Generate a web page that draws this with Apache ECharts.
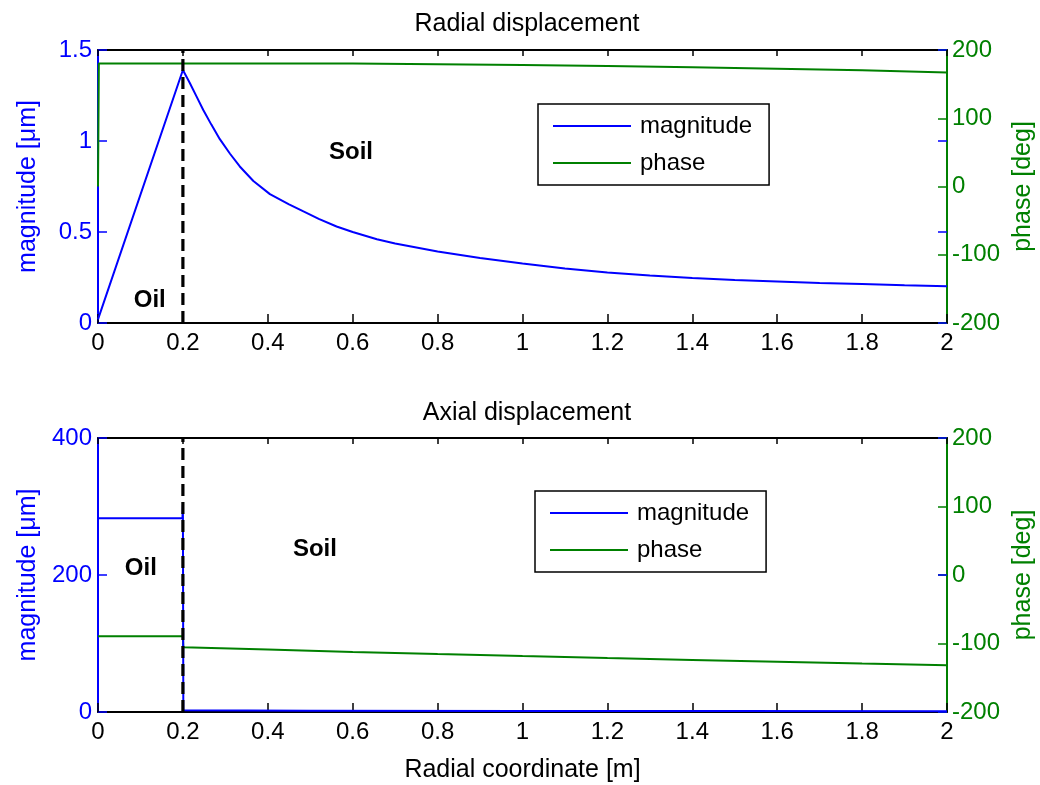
<!DOCTYPE html>
<html>
<head>
<meta charset="utf-8">
<script src="https://cdn.jsdelivr.net/npm/echarts@6/dist/echarts.min.js"></script>
<style>
html,body{margin:0;padding:0;background:#fff;}
#chart{width:1040px;height:785px;}
</style>
</head>
<body>
<div id="chart"></div>
<script>
// ---------- data ----------
var xTicks = [0, 0.2, 0.4, 0.6, 0.8, 1, 1.2, 1.4, 1.6, 1.8, 2];
var boundaryR = 0.2;

// Radial displacement
var radialMagR   = [0, 0.2, 0.216, 0.232, 0.248, 0.267, 0.287, 0.311, 0.334, 0.366, 0.405, 0.45, 0.484, 0.52, 0.562, 0.6, 0.657, 0.7, 0.8, 0.9, 1.0, 1.1, 1.2, 1.3, 1.4, 1.5, 1.6, 1.7, 1.8, 1.9, 2.0];
var radialMag    = [0.02, 1.39, 1.32, 1.245, 1.17, 1.09, 1.01, 0.93, 0.86, 0.78, 0.708, 0.652, 0.613, 0.572, 0.53, 0.50, 0.46, 0.437, 0.393, 0.357, 0.327, 0.299, 0.277, 0.261, 0.247, 0.236, 0.228, 0.220, 0.214, 0.207, 0.202];
var radialPhaseR = [0, 0.002, 0.2, 0.4, 0.6, 0.8, 1.0, 1.2, 1.4, 1.6, 1.8, 2.0];
var radialPhase  = [0, 180.3, 180.3, 180.3, 180.1, 179.3, 178.0, 176.4, 174.7, 172.6, 170.3, 167.0];

// Axial displacement
var axialMagR    = [0, 0.199, 0.2, 0.201, 0.5, 1.0, 1.5, 2.0];
var axialMag     = [283, 283, 302, 2.5, 2.0, 1.6, 1.3, 1.1];
var axialPhaseR  = [0, 0.2, 0.201, 0.4, 0.6, 0.8, 1.0, 1.2, 1.4, 1.6, 1.8, 2.0];
var axialPhase   = [-89.5, -89.5, -105.5, -108.8, -112.3, -115.4, -118.4, -121.3, -124.0, -126.6, -129.3, -131.8];

// annotations [r, value, text]
var radialNotes = [[0.122, 0.124, 'Oil'], [0.596, 0.94, 'Soil']];
var axialNotes  = [[0.101, 209, 'Oil'], [0.511, 238, 'Soil']];

// ---------- helpers ----------
function zip(a, b){ return a.map(function(v,i){ return [v, b[i]]; }); }
var FONT = 'Liberation Sans, Arial, Helvetica, sans-serif';
var BLUE = '#0000FF', GREEN = '#008000', BLACK = '#000000';
var FS = 24;     // tick labels, legend
var FS_T = 25;   // titles, axis names

function gridAt(top, height){
  return {left: 98, top: top, width: 849, height: height, containLabel:false, outerBoundsMode:'none'};
}
var grids = [gridAt(50, 273), gridAt(438, 274), gridAt(50, 273), gridAt(438, 274)];

function xBottom(g, name){
  return {type:'value', gridIndex:g, position:'bottom', min:0, max:2, interval:0.2,
    axisLine:{show:true, onZero:false, lineStyle:{color:BLACK, width:2}},
    axisTick:{show:true, inside:true, length:9, lineStyle:{color:BLACK, width:1.5}},
    axisLabel:{show:true, color:BLACK, fontSize:FS, fontFamily:FONT, margin:8,
      formatter:function(v){ return String(Math.round(v*10)/10); }},
    splitLine:{show:false},
    name:name||'', nameLocation:'middle', nameGap:46,
    nameTextStyle:{color:BLACK, fontSize:FS_T, fontFamily:FONT}};
}
function xTop(g){
  return {type:'value', gridIndex:g, position:'top', min:0, max:2, interval:0.2,
    axisLine:{show:true, onZero:false, lineStyle:{color:BLACK, width:2}},
    axisTick:{show:true, inside:true, length:6, lineStyle:{color:BLACK, width:1.5}},
    axisLabel:{show:false}, splitLine:{show:false}};
}
function xHidden(g){
  return {type:'value', gridIndex:g, min:0, max:2, show:false};
}
function yMag(g, max, interval, name){
  return {type:'value', gridIndex:g, position:'left', min:0, max:max, interval:interval,
    axisLine:{show:true, onZero:false, lineStyle:{color:BLUE, width:2}},
    axisTick:{show:true, inside:true, length:9, lineStyle:{color:BLUE, width:1.5}},
    axisLabel:{show:true, color:BLUE, fontSize:FS, fontFamily:FONT, margin:6},
    splitLine:{show:false},
    name:name, nameLocation:'middle', nameGap:57,
    nameTextStyle:{color:BLUE, fontSize:FS_T, fontFamily:FONT}};
}
function yMagMirror(g, max, interval){
  return {type:'value', gridIndex:g, position:'right', min:0, max:max, interval:interval,
    axisLine:{show:false, onZero:false},
    axisTick:{show:true, inside:true, length:9, lineStyle:{color:BLUE, width:1.5}},
    axisLabel:{show:false}, splitLine:{show:false}};
}
function yPhase(g){
  return {type:'value', gridIndex:g, position:'right', min:-200, max:200, interval:100,
    axisLine:{show:true, onZero:false, lineStyle:{color:GREEN, width:2}},
    axisTick:{show:true, inside:true, length:9, lineStyle:{color:GREEN, width:1.5}},
    axisLabel:{show:true, color:GREEN, fontSize:FS, fontFamily:FONT, margin:5},
    splitLine:{show:false},
    name:'phase [deg]', nameLocation:'middle', nameGap:62,
    nameTextStyle:{color:GREEN, fontSize:FS_T, fontFamily:FONT}};
}

function lineSeries(name, xi, yi, data, color){
  return {type:'line', name:name, xAxisIndex:xi, yAxisIndex:yi, data:data,
    showSymbol:false, symbol:'none', animation:false, z:3,
    lineStyle:{color:color, width:2}, itemStyle:{color:color}};
}
function boundarySeries(xi, yi, top){
  return {type:'line', name:'boundary', xAxisIndex:xi, yAxisIndex:yi,
    data:[[boundaryR, 0],[boundaryR, top]], showSymbol:false, symbol:'none', animation:false, z:4,
    lineStyle:{color:BLACK, width:3.2, type:[12,6]}, itemStyle:{color:BLACK}};
}
function noteSeries(xi, yi, notes){
  return {type:'scatter', name:'notes', xAxisIndex:xi, yAxisIndex:yi, symbolSize:0, animation:false, z:5,
    itemStyle:{opacity:1},
    data:notes.map(function(n){ return {value:[n[0], n[1]], label:{formatter:n[2]}}; }),
    label:{show:true, position:'inside', color:BLACK, opacity:1, fontSize:FS, fontWeight:'bold', fontFamily:FONT}};
}
function legendBox(left, top){
  return {show:true, orient:'vertical', left:left, top:top,
    data:[{name:'magnitude'},{name:'phase'}],
    icon:'rect', itemWidth:78, itemHeight:2, itemGap:13,
    padding:[10, 17, 10, 15],
    borderColor:BLACK, borderWidth:1.5, backgroundColor:'#fff',
    selectedMode:false,
    textStyle:{color:BLACK, fontSize:FS, fontFamily:FONT, padding:[0,0,0,4]}};
}

var option = {
  backgroundColor:'#fff',
  animation:false,
  title:[
    {text:'Radial displacement', left:522, top:7, textAlign:'center',
     textStyle:{color:BLACK, fontSize:FS_T, fontWeight:'normal', fontFamily:FONT}},
    {text:'Axial displacement', left:522, top:396, textAlign:'center',
     textStyle:{color:BLACK, fontSize:FS_T, fontWeight:'normal', fontFamily:FONT}}
  ],
  grid:grids,
  legend:[legendBox(538, 104), legendBox(535, 491)],
  xAxis:[xBottom(0), xTop(0), xBottom(1, 'Radial coordinate [m]'), xTop(1), xHidden(2), xHidden(3)],
  yAxis:[yMag(0, 1.5, 0.5, 'magnitude [\u03bcm]'), yPhase(0), yMag(1, 400, 200, 'magnitude [\u03bcm]'), yPhase(1),
         yMagMirror(2, 1.5, 0.5), yMagMirror(3, 400, 200)],
  series:[
    lineSeries('phase', 0, 1, zip(radialPhaseR, radialPhase), GREEN),
    lineSeries('magnitude', 0, 0, zip(radialMagR, radialMag), BLUE),
    boundarySeries(0, 0, 1.5),
    noteSeries(0, 0, radialNotes),
    lineSeries('phase', 2, 3, zip(axialPhaseR, axialPhase), GREEN),
    lineSeries('magnitude', 2, 2, zip(axialMagR, axialMag), BLUE),
    boundarySeries(2, 2, 400),
    noteSeries(2, 2, axialNotes)
  ]
};

var chart = echarts.init(document.getElementById('chart'), null, {renderer:'canvas'});
chart.setOption(option);
</script>
</body>
</html>
